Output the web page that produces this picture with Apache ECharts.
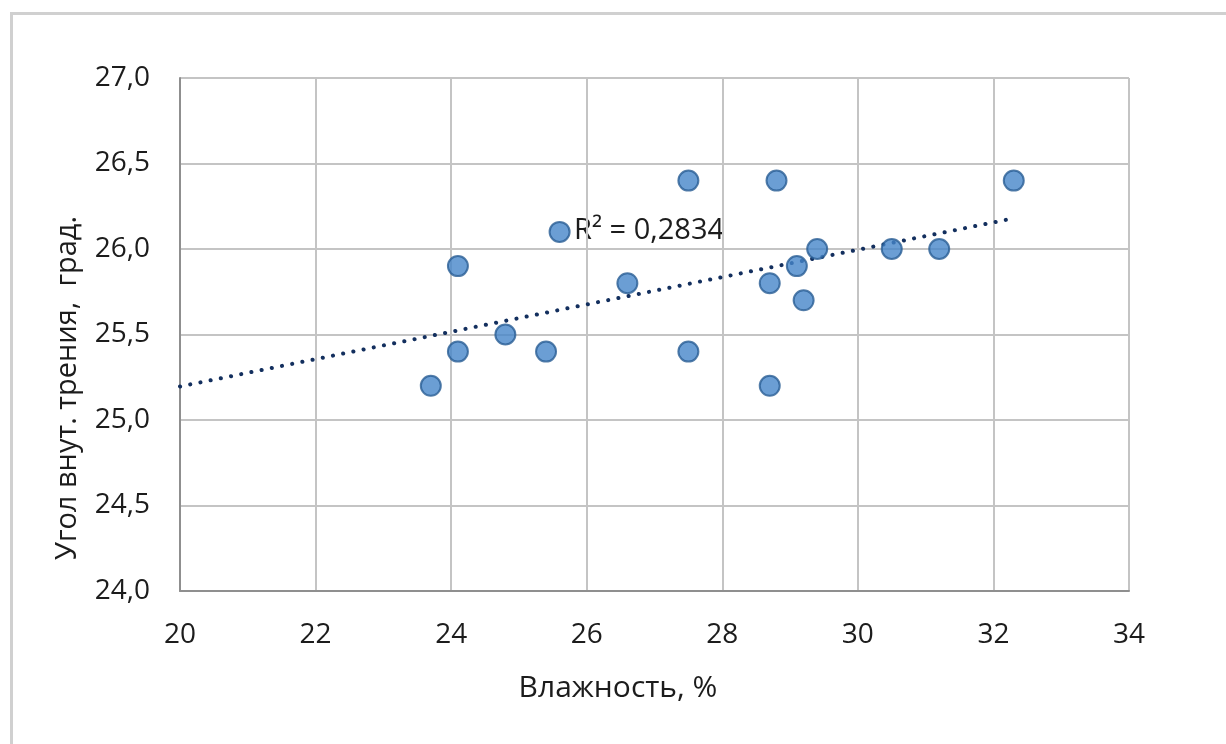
<!DOCTYPE html>
<html>
<head>
<meta charset="utf-8">
<script src="https://cdn.jsdelivr.net/npm/echarts@6/dist/echarts.min.js"></script>
<style>
  html, body { margin: 0; padding: 0; background: #fff; }
  #chart { width: 1226px; height: 744px; }
</style>
</head>
<body>
<div id="chart"></div>
<script>
// Humidity (%) and internal friction angle (deg) per sample
const moisture = [23.7, 24.1, 24.1, 24.8, 25.4, 25.6, 26.6, 27.5, 27.5, 28.7, 28.7, 28.8, 29.1, 29.2, 29.4, 30.5, 31.2, 32.3];
const frictionAngle = [25.2, 25.9, 25.4, 25.5, 25.4, 26.1, 25.8, 26.4, 25.4, 25.8, 25.2, 26.4, 25.9, 25.7, 26.0, 26.0, 26.0, 26.4];

// Trend line span (backward forecast to the axis start)
const trendFrom = 20;
const trendTo = 32.3;
const r2Label = 'R² = 0,2834';

const xTitle = 'Влажность, %';
const yTitle = 'Угол внут. трения,  град.';

// Least-squares linear fit
function linearFit(xs, ys) {
  const n = xs.length;
  const mx = xs.reduce((a, b) => a + b, 0) / n;
  const my = ys.reduce((a, b) => a + b, 0) / n;
  let sxy = 0, sxx = 0;
  for (let i = 0; i < n; i++) {
    sxy += (xs[i] - mx) * (ys[i] - my);
    sxx += (xs[i] - mx) * (xs[i] - mx);
  }
  const k = sxy / sxx;
  return { k, b: my - k * mx };
}
const fit = linearFit(moisture, frictionAngle);
const trendPoints = [trendFrom, trendTo].map(x => [x, fit.k * x + fit.b]);
const points = moisture.map((x, i) => [x, frictionAngle[i]]);

const FONT = '"Open Sans", "Noto Sans", sans-serif';
const TEXT = '#1c1c1c';
const fmt = v => v.toFixed(1).replace('.', ',');

const chart = echarts.init(document.getElementById('chart'), null, { renderer: 'canvas' });
chart.setOption({
  animation: false,
  backgroundColor: '#ffffff',
  grid: { left: 180, right: 97, top: 78, bottom: 153, containLabel: false },
  xAxis: {
    type: 'value', min: 20, max: 34, interval: 2,
    axisLine: { show: true, lineStyle: { color: '#8f8f8f', width: 2 } },
    axisTick: { show: false },
    splitLine: { show: true, lineStyle: { color: '#c4c4c4', width: 2 } },
    axisLabel: { color: TEXT, fontFamily: FONT, fontSize: 28, margin: 30 }
  },
  yAxis: {
    type: 'value', min: 24, max: 27, interval: 0.5,
    axisLine: { show: true, lineStyle: { color: '#8f8f8f', width: 2 } },
    axisTick: { show: false },
    splitLine: { show: true, lineStyle: { color: '#c4c4c4', width: 2 } },
    axisLabel: { color: TEXT, fontFamily: FONT, fontSize: 28, margin: 30, formatter: fmt }
  },
  series: [
    {
      type: 'line',
      data: trendPoints,
      symbol: 'none',
      z: 3,
      lineStyle: { color: '#132f5e', width: 4, type: [0.1, 10.3], cap: 'round' }
    },
    {
      type: 'scatter',
      data: points,
      symbolSize: 20,
      z: 4,
      itemStyle: { color: '#4686c9', borderColor: '#285d94', borderWidth: 2 }
    }
  ],
  graphic: [
    {
      type: 'rect', left: 9, top: 11, z: -1,
      shape: { width: 1300, height: 800 },
      style: { fill: 'none', stroke: '#d0d0d0', lineWidth: 3 }
    },
    {
      type: 'text', x: 618, y: 688,
      style: { text: xTitle, fill: TEXT, font: '30px ' + FONT, align: 'center', verticalAlign: 'middle' }
    },
    {
      type: 'text', x: 68, y: 388, rotation: Math.PI / 2,
      style: { text: yTitle, fill: TEXT, font: '29px ' + FONT, align: 'center', verticalAlign: 'middle' }
    },
    {
      type: 'text', x: 574, y: 231,
      style: { text: r2Label, fill: TEXT, font: '29px ' + FONT, align: 'left', verticalAlign: 'middle' }
    }
  ]
});
</script>
</body>
</html>
